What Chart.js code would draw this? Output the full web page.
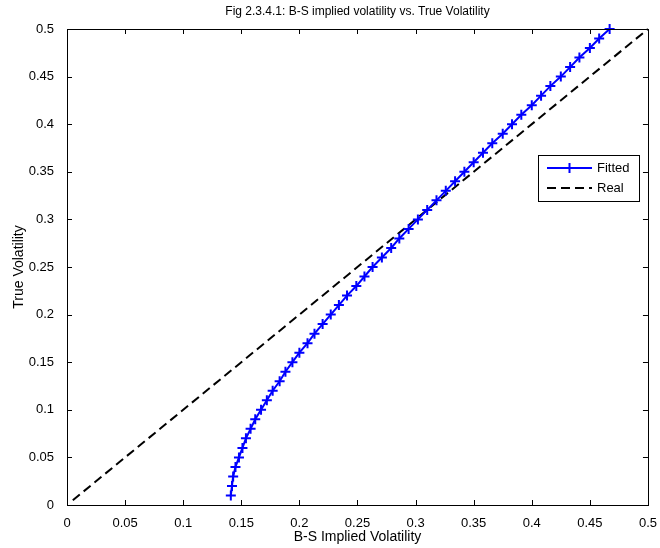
<!DOCTYPE html>
<html>
<head>
<meta charset="utf-8">
<script src="https://cdn.jsdelivr.net/npm/chart.js@4"></script>
<style>
  body { margin: 0; background: #fff; }
  canvas { display: block; }
</style>
</head>
<body>
<canvas id="myChart" width="660" height="548"></canvas>
<script>
// true volatility (y) and the fitted B-S implied vol (x)
var trueVol = [0.01, 0.02, 0.03, 0.04, 0.05, 0.06, 0.07, 0.08, 0.09, 0.10,
               0.11, 0.12, 0.13, 0.14, 0.15, 0.16, 0.17, 0.18, 0.19, 0.20,
               0.21, 0.22, 0.23, 0.24, 0.25, 0.26, 0.27, 0.28, 0.29, 0.30,
               0.31, 0.32, 0.33, 0.34, 0.35, 0.36, 0.37, 0.38, 0.39, 0.40,
               0.41, 0.42, 0.43, 0.44, 0.45, 0.46, 0.47, 0.48, 0.49, 0.50];
var fittedImplied = [0.141, 0.142, 0.143, 0.145, 0.148, 0.151, 0.154, 0.158, 0.162, 0.167,
                     0.172, 0.177, 0.183, 0.188, 0.194, 0.200, 0.207, 0.213, 0.220, 0.227,
                     0.234, 0.241, 0.249, 0.256, 0.263, 0.271, 0.279, 0.286, 0.294, 0.302,
                     0.310, 0.318, 0.326, 0.334, 0.342, 0.350, 0.358, 0.366, 0.375, 0.383,
                     0.391, 0.400, 0.408, 0.416, 0.425, 0.433, 0.441, 0.450, 0.458, 0.467];
var realX = [0.005, 0.5];
var realY = [0.005, 0.5];
var axisTicks = [0, 0.05, 0.1, 0.15, 0.2, 0.25, 0.3, 0.35, 0.4, 0.45, 0.5];

var FONT = 'Arial, "Liberation Sans", sans-serif';

function toPoints(xs, ys) {
    var pts = [];
    for (var i = 0; i < xs.length; i++) {
        pts.push({ x: xs[i], y: ys[i] });
    }
    return pts;
}

// matlab style box, inward ticks, title and legend
var matlabBox = {
    id: 'matlabBox',
    afterDraw: function (chart) {
        var ctx = chart.ctx;
        var a = chart.chartArea;
        var sx = chart.scales.x, sy = chart.scales.y;
        ctx.save();
        ctx.strokeStyle = '#000';
        ctx.lineWidth = 1;
        ctx.strokeRect(Math.round(a.left) + 0.5, Math.round(a.top) + 0.5,
                       Math.round(a.right - a.left), Math.round(a.bottom - a.top));
        ctx.beginPath();
        axisTicks.forEach(function (v) {
            var px = Math.round(sx.getPixelForValue(v)) + 0.5;
            ctx.moveTo(px, a.bottom); ctx.lineTo(px, a.bottom - 5);
            ctx.moveTo(px, a.top); ctx.lineTo(px, a.top + 5);
            var py = Math.round(sy.getPixelForValue(v)) + 0.5;
            ctx.moveTo(a.left, py); ctx.lineTo(a.left + 5, py);
            ctx.moveTo(a.right, py); ctx.lineTo(a.right - 5, py);
        });
        ctx.stroke();

        // title
        ctx.fillStyle = '#000';
        ctx.font = '12px ' + FONT;
        ctx.textAlign = 'center';
        ctx.textBaseline = 'middle';
        ctx.fillText('Fig 2.3.4.1: B-S implied volatility vs. True Volatility', (a.left + a.right) / 2, 12);

        // legend
        var lx = 538, ly = 155, lw = 101, lh = 46;
        ctx.fillStyle = '#fff';
        ctx.fillRect(lx, ly, lw, lh);
        ctx.strokeRect(lx + 0.5, ly + 0.5, lw, lh);
        ctx.strokeStyle = '#0000ff';
        ctx.lineWidth = 2;
        ctx.beginPath();
        ctx.moveTo(547, 168); ctx.lineTo(592, 168);
        ctx.moveTo(569.5, 163); ctx.lineTo(569.5, 173);
        ctx.stroke();
        ctx.strokeStyle = '#000';
        ctx.setLineDash([9, 5]);
        ctx.beginPath();
        ctx.moveTo(547, 188); ctx.lineTo(592, 188);
        ctx.stroke();
        ctx.setLineDash([]);
        ctx.fillStyle = '#000';
        ctx.font = '13px ' + FONT;
        ctx.textAlign = 'left';
        ctx.fillText('Fitted', 597, 168);
        ctx.fillText('Real', 597, 188);
        ctx.restore();
    }
};

var ctx = document.getElementById('myChart').getContext('2d');
var myChart = new Chart(ctx, {
    type: 'scatter',
    data: {
        datasets: [
            {
                label: 'Fitted',
                data: toPoints(fittedImplied, trueVol),
                showLine: true,
                borderColor: '#0000ff',
                borderWidth: 2,
                pointStyle: 'cross',
                pointRadius: 5,
                pointBorderWidth: 2,
                pointBorderColor: '#0000ff',
                pointBackgroundColor: '#0000ff',
                clip: false
            },
            {
                label: 'Real',
                data: toPoints(realX, realY),
                showLine: true,
                borderColor: '#000',
                borderWidth: 2,
                borderDash: [9, 5],
                pointRadius: 0,
                clip: false
            }
        ]
    },
    options: {
        responsive: false,
        animation: false,
        layout: { padding: { top: 29, right: 10, left: 0, bottom: 0 } },
        plugins: {
            legend: { display: false },
            tooltip: { enabled: false },
            title: { display: false }
        },
        scales: {
            x: {
                type: 'linear',
                min: 0,
                max: 0.5,
                afterBuildTicks: function (scale) {
                    scale.ticks = axisTicks.map(function (v) { return { value: v }; });
                },
                afterFit: function (scale) { scale.height = 43; },
                grid: { display: false },
                border: { display: false },
                ticks: {
                    color: '#000',
                    font: { family: FONT, size: 13 },
                    padding: 3,
                    maxRotation: 0,
                    callback: function (v) { return String(+v.toFixed(2)); }
                },
                title: {
                    display: true,
                    text: 'B-S Implied Volatility',
                    color: '#000',
                    font: { family: FONT, size: 14 },
                    padding: { top: 0, bottom: 2 }
                }
            },
            y: {
                type: 'linear',
                min: 0,
                max: 0.5,
                afterBuildTicks: function (scale) {
                    scale.ticks = axisTicks.map(function (v) { return { value: v }; });
                },
                afterFit: function (scale) { scale.width = 67; },
                grid: { display: false },
                border: { display: false },
                ticks: {
                    color: '#000',
                    font: { family: FONT, size: 13 },
                    padding: 5,
                    callback: function (v) { return String(+v.toFixed(2)); }
                },
                title: {
                    display: true,
                    text: 'True Volatility',
                    color: '#000',
                    font: { family: FONT, size: 14 },
                    padding: { top: 11, bottom: 0 }
                }
            }
        }
    },
    plugins: [matlabBox]
});
</script>
</body>
</html>
